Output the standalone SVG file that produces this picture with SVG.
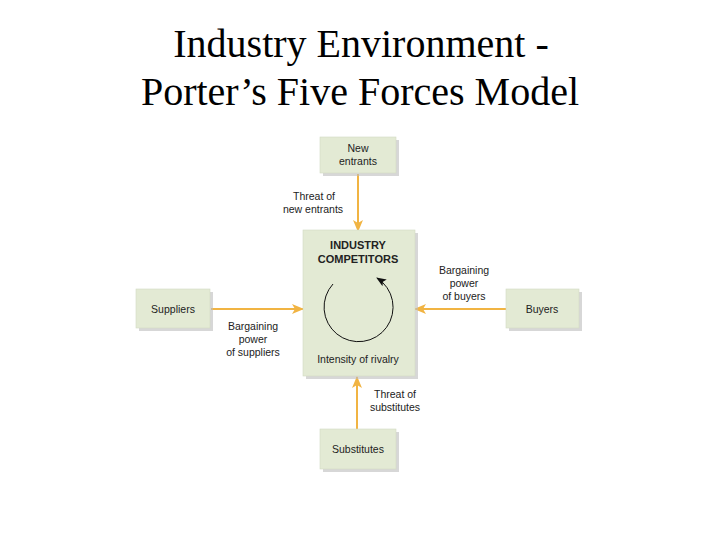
<svg xmlns="http://www.w3.org/2000/svg" width="720" height="540" viewBox="0 0 720 540">
<style>
.title{font-family:"Liberation Serif","Times New Roman",serif;font-size:40px;fill:#000;text-anchor:middle}
.lbl{font-family:"Liberation Sans",Arial,sans-serif;font-size:10.5px;fill:#222;text-anchor:middle}
.bold{font-family:"Liberation Sans",Arial,sans-serif;font-size:11px;font-weight:bold;fill:#222;text-anchor:middle}
.box{fill:#e3ead4;stroke:#d2d9c2;stroke-width:0.6}
.shadow{fill:#bdbdbd;opacity:0.6}
.arr{stroke:#f1b443;stroke-width:2;fill:none;marker-end:url(#ah)}
</style>
<defs>
<marker id="ah" viewBox="0 0 12 10" refX="11" refY="5" markerWidth="12" markerHeight="10" markerUnits="userSpaceOnUse" orient="auto">
<path d="M0,0 L12,5 L0,10 L3,5 Z" fill="#f1b443"/>
</marker>
<marker id="bk" viewBox="0 0 10 8" refX="9" refY="4" markerWidth="10" markerHeight="8" markerUnits="userSpaceOnUse" orient="auto">
<path d="M0,0 L10,4 L0,8 L2,4 Z" fill="#111"/>
</marker>
</defs>
<text class="title" x="361" y="57">Industry Environment -</text>
<text class="title" x="360" y="105">Porter’s Five Forces Model</text>

<g id="connectors">
<line class="arr" x1="358" y1="174" x2="358" y2="231"/>
<line class="arr" x1="211" y1="309" x2="303" y2="309"/>
<line class="arr" x1="506" y1="309" x2="415" y2="309"/>
<line class="arr" x1="357" y1="429" x2="357" y2="377"/>
</g>

<g id="new-entrants">
<rect class="shadow" x="323" y="140" width="76" height="36"/>
<rect class="box" x="320" y="137" width="76" height="36"/>
<text class="lbl" x="358" y="152">New</text>
<text class="lbl" x="358" y="165">entrants</text>
</g>

<g id="industry-competitors">
<rect class="shadow" x="306" y="233" width="112" height="146"/>
<rect class="box" x="303" y="230" width="112" height="146"/>
<text class="bold" x="358" y="249">INDUSTRY</text>
<text class="bold" x="358" y="263">COMPETITORS</text>
<path d="M333,284 A34.5,34.5 0 1 0 377,278" fill="none" stroke="#111" stroke-width="1" marker-end="url(#bk)"/>
<text class="lbl" x="358" y="363">Intensity of rivalry</text>
</g>

<g id="suppliers">
<rect class="shadow" x="139" y="292" width="74" height="39"/>
<rect class="box" x="136" y="289" width="74" height="39"/>
<text class="lbl" x="173" y="313">Suppliers</text>
</g>

<g id="buyers">
<rect class="shadow" x="509" y="292" width="73" height="39"/>
<rect class="box" x="506" y="289" width="73" height="39"/>
<text class="lbl" x="542" y="313">Buyers</text>
</g>

<g id="substitutes">
<rect class="shadow" x="323" y="432" width="76" height="40"/>
<rect class="box" x="320" y="429" width="76" height="40"/>
<text class="lbl" x="358" y="453">Substitutes</text>
</g>

<g id="labels">
<text class="lbl" x="314" y="200">Threat of</text>
<text class="lbl" x="313" y="213">new entrants</text>
<text class="lbl" x="464" y="274">Bargaining</text>
<text class="lbl" x="464" y="287">power</text>
<text class="lbl" x="464" y="300">of buyers</text>
<text class="lbl" x="253" y="330">Bargaining</text>
<text class="lbl" x="253" y="343">power</text>
<text class="lbl" x="253" y="356">of suppliers</text>
<text class="lbl" x="395" y="398">Threat of</text>
<text class="lbl" x="395" y="411">substitutes</text>
</g>
</svg>
